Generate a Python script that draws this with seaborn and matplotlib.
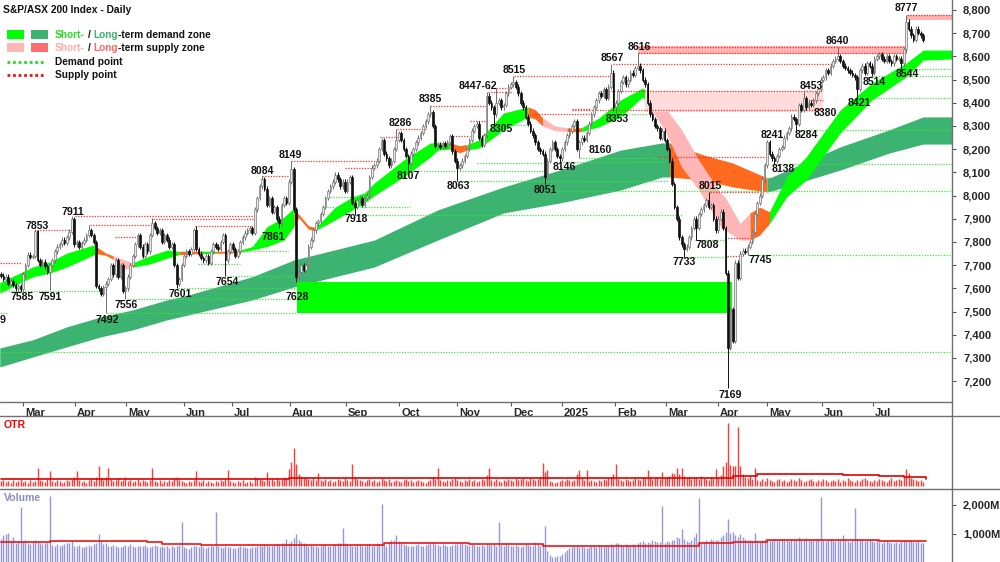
import numpy as np
import matplotlib
matplotlib.use("Agg")
import matplotlib.pyplot as plt
from matplotlib.lines import Line2D
from matplotlib.patches import Rectangle
from matplotlib.transforms import ScaledTranslation
import seaborn as sns

# ---------------- data ----------------
# daily closes, one per trading day (Feb-2024 .. Jul-2025)
CLOSE = [
    7655, 7640, 7650, 7620, 7630, 7615, 7600, 7610, 7598, 7660,
    7700, 7745, 7735, 7740, 7847, 7722, 7700, 7715, 7695, 7670,
    7700, 7720, 7760, 7780, 7790, 7810, 7795, 7820, 7845, 7897,
    7790, 7800, 7780, 7795, 7810, 7830, 7850, 7830, 7800, 7610,
    7600, 7575, 7605, 7620, 7640, 7700, 7660, 7720, 7650, 7700,
    7590, 7600, 7650, 7700, 7740, 7790, 7830, 7780, 7740, 7790,
    7760, 7830, 7880, 7860, 7840, 7850, 7800, 7830, 7810, 7780,
    7790, 7700, 7620, 7640, 7700, 7740, 7760, 7750, 7770, 7850,
    7770, 7750, 7730, 7720, 7740, 7710, 7760, 7790, 7780, 7770,
    7800, 7830, 7720, 7760, 7790, 7770, 7740, 7760, 7800, 7820,
    7840, 7850, 7860, 7840, 7940, 7990, 8040, 8070, 8030, 7960,
    7990, 7930, 7950, 7900, 7880, 7960, 7990, 7970, 8060, 8114,
    7940, 7650, 7670, 7700, 7680, 7700, 7780, 7810, 7850, 7880,
    7890, 7920, 7950, 7990, 8020, 8040, 8060, 8090, 8070, 8040,
    8060, 8020, 8060, 8080, 7970, 7950, 7980, 7990, 7960, 7990,
    8000, 8080, 8120, 8130, 8150, 8200, 8240, 8180, 8160, 8130,
    8150, 8200, 8240, 8270, 8240, 8200, 8170, 8140, 8180, 8200,
    8230, 8250, 8270, 8300, 8320, 8350, 8360, 8300, 8215, 8220,
    8210, 8225, 8215, 8230, 8255, 8190, 8150, 8120, 8130, 8150,
    8170, 8200, 8240, 8280, 8300, 8310, 8250, 8220, 8260, 8430,
    8400, 8380, 8350, 8400, 8410, 8380, 8390, 8440, 8470, 8480,
    8490, 8470, 8440, 8400, 8380, 8340, 8310, 8280, 8260, 8230,
    8200, 8190, 8180, 8080, 8150, 8200, 8230, 8200, 8170, 8160,
    8200, 8230, 8260, 8280, 8300, 8320, 8200, 8230, 8250, 8240,
    8270, 8310, 8350, 8380, 8410, 8440, 8430, 8460, 8420, 8470,
    8530, 8380, 8400, 8450, 8490, 8510, 8480, 8500, 8530, 8520,
    8550, 8560, 8540, 8500, 8480, 8400, 8350, 8330, 8300, 8290,
    8250, 8280, 8240, 8200, 8150, 8050, 7950, 7900, 7820, 7790,
    7770, 7780, 7820, 7860, 7900, 7860, 7920, 7940, 7960, 7980,
    7950, 7960, 7900, 7850, 7900, 7930, 7860, 7667, 7343, 7510,
    7375, 7710, 7646, 7749, 7762, 7758, 7780, 7800, 7843, 7920,
    7968, 8000, 8070, 8130, 8230, 8180, 8160, 8150, 8170, 8200,
    8210, 8250, 8270, 8290, 8340, 8330, 8310, 8390, 8370, 8420,
    8380, 8400, 8390, 8410, 8440, 8460, 8500, 8510, 8540, 8530,
    8560, 8580, 8590, 8600, 8580, 8560, 8550, 8540, 8530, 8520,
    8510, 8460, 8540, 8560, 8530, 8570, 8560, 8530, 8590, 8600,
    8610, 8590, 8580, 8600, 8580, 8570, 8600, 8590, 8590, 8570,
    8630, 8750, 8720, 8690, 8670, 8720, 8700, 8690, 8670,
]
FIRST_OPEN = 7660

# labelled swing highs / lows (index -> price)
HIGH_MARKS = {15: 7853, 29: 7911, 36: 7873, 62: 7904, 80: 7870, 107: 8084, 119: 8149,
              162: 8286, 176: 8385, 199: 8447, 203: 8462, 210: 8515, 250: 8567,
              261: 8616, 290: 8015, 315: 8241, 329: 8453, 343: 8640, 371: 8777}
LOW_MARKS = {8: 7585, 20: 7591, 43: 7492, 51: 7556, 72: 7601, 92: 7654, 114: 7861,
             121: 7628, 145: 7918, 167: 8107, 187: 8063, 202: 8305, 223: 8051,
             229: 8146, 237: 8160, 252: 8353, 280: 7733, 285: 7808, 298: 7169,
             306: 7745, 317: 8138, 326: 8284, 332: 8380, 351: 8421, 357: 8514, 369: 8544}

# volume in millions
VOLUME = [
    820, 950, 1000, 1050, 780, 900, 700, 760, 1930, 720,
    780, 700, 650, 720, 800, 760, 690, 640, 700, 740,
    2310, 620, 600, 640, 580, 610, 650, 700, 690, 760,
    600, 580, 620, 560, 540, 600, 620, 580, 650, 700,
    1000, 760, 640, 700, 600, 580, 620, 600, 560, 540,
    580, 620, 600, 650, 580, 560, 600, 590, 580, 610,
    560, 540, 590, 620, 600, 560, 580, 540, 600, 520,
    580, 560, 600, 620, 1410, 560, 520, 480, 540, 600,
    580, 560, 620, 540, 500, 560, 580, 600, 1750, 600,
    560, 520, 580, 560, 540, 500, 520, 560, 580, 540,
    560, 520, 500, 540, 560, 600, 620, 580, 640, 620,
    600, 580, 620, 660, 640, 700, 680, 830, 700, 760,
    860, 1000, 800, 720, 680, 640, 600, 620, 580, 600,
    560, 600, 640, 620, 600, 580, 620, 650, 700, 680,
    1200, 700, 640, 620, 600, 580, 620, 640, 600, 580,
    620, 640, 600, 620, 700, 640, 2030, 620, 600, 720,
    800, 780, 970, 760, 700, 640, 620, 600, 580, 600,
    620, 640, 600, 580, 620, 640, 680, 720, 660, 620,
    600, 640, 620, 600, 580, 620, 640, 660, 700, 680,
    640, 620, 600, 640, 620, 600, 580, 620, 600, 640,
    660, 620, 640, 600, 1410, 620, 600, 640, 620, 580,
    600, 620, 580, 560, 600, 640, 620, 580, 600, 720,
    640, 600, 700, 1280, 420, 260, 200, 220, 240, 230,
    320, 380, 450, 520, 560, 580, 600, 560, 580, 540,
    520, 560, 600, 580, 560, 620, 600, 580, 620, 600,
    640, 620, 700, 680, 620, 600, 640, 620, 580, 640,
    600, 680, 720, 760, 700, 740, 680, 800, 760, 720,
    740, 1970, 700, 760, 720, 800, 780, 900, 860, 1170,
    820, 760, 740, 800, 900, 1040, 2240, 700, 720, 800,
    760, 820, 780, 800, 780, 900, 960, 1060, 1520, 1020,
    1060, 960, 900, 1000, 880, 820, 780, 800, 760, 1030,
    780, 760, 800, 820, 780, 760, 800, 820, 780, 800,
    840, 780, 800, 760, 820, 800, 840, 880, 820, 800,
    860, 820, 780, 800, 840, 820, 2280, 800, 760, 780,
    820, 800, 760, 820, 800, 970, 780, 760, 740, 800,
    1900, 820, 780, 800, 760, 780, 800, 760, 740, 780,
    720, 700, 740, 760, 720, 700, 680, 720, 700, 760,
    800, 780, 760, 800, 740, 720, 760, 700, 680,
]
VOL_MA_IDX = [0, 20, 60, 66, 82, 150, 157, 192, 222, 286, 300, 314, 360, 379]
VOL_MA_VAL = [720, 760, 720, 655, 620, 630, 690, 650, 586, 690, 724, 790, 760, 760]

OTR = [
    .5, .6, .4, .5, .3, .6, .4, .5, .7, .4,
    .5, .3, .6, .4, .5, 1.8, .6, .5, .4, .7,
    1.5, .5, .4, .6, .5, .3, .4, .6, .5, .7,
    .9, 1.5, .6, .4, .5, .3, .6, .8, .5, .9,
    2.0, .8, .6, .9, 1.8, .7, .5, .6, .8, .5,
    .6, .9, .5, .6, .4, .5, .7, .4, .6, .5,
    .4, .6, 1.8, .5, .4, .6, .3, .5, .4, .6,
    .5, .8, .9, .6, .5, .4, .3, .5, .4, .6,
    1.5, .5, .4, .6, .3, .5, .4, .3, .5, .4,
    .6, .5, .7, 1.6, .5, .4, .3, .5, .4, .6,
    .3, .4, .5, .3, .9, .8, .7, .6, .5, 1.4,
    .6, .7, .5, .8, .6, .7, .9, .8, 1.7, 2.4,
    3.8, 2.2, 1.2, 1.0, .9, .8, .7, .6, .8, .6,
    1.3, .6, .5, .7, .5, .6, .4, .5, .7, .6,
    .5, .8, .6, .5, 2.2, .9, .7, .6, .5, .4,
    .6, .7, .5, .6, .4, .5, .8, .6, .5, .7,
    .4, .5, .6, .5, .4, .6, .7, .5, .6, .4,
    .5, .6, .5, .4, .3, .5, .6, .9, .7, 1.8,
    .6, .5, .4, .6, .5, .7, .8, .6, .5, .4,
    .6, .5, .7, .5, .6, .4, .5, .7, .6, 1.1,
    1.8, .6, .5, .7, .5, .4, .6, .5, .7, .6,
    .5, .8, .6, .7, .9, .6, .5, .8, .7, .6,
    .7, .9, 2.3, 1.4, 1.6, .5, .4, .3, .4, .5,
    .6, .5, .7, .6, .5, .6, 1.2, 1.6, .8, .6,
    1.6, .5, .6, .5, .4, .6, .5, .7, .6, .8,
    .9, 1.2, 2.2, .7, .6, .5, .7, .6, .5, .6,
    .8, .7, .6, .9, .8, 1.6, .9, .7, .8, .9,
    .7, 1.4, .8, .9, 1.0, 1.3, 1.2, 1.8, 1.2, 1.8,
    1.0, .8, .9, .7, .8, .9, .7, 1.0, .8, .7,
    .6, .9, .8, 1.7, .9, 1.1, 2.0, 2.4, 6.3, 2.1,
    2.0, 2.0, 5.9, 2.0, 1.2, .9, .8, 1.0, .7, 1.8,
    .6, .5, .7, .5, .8, .6, .5, .4, .6, .7,
    .5, .6, .4, .5, .7, .6, .5, .8, .6, .4,
    .5, .6, .7, .5, .4, .6, .5, .7, .6, .4,
    .5, .6, .5, .7, .4, .6, .5, .8, .6, .5,
    .4, .6, .5, .7, .8, .6, .5, .4, .6, .5,
    .7, .6, .5, .4, .6, .8, .5, .6, .7, .6,
    .9, 1.7, 1.3, .8, .7, .6, .5, .6, .4,
]
OTR_MA_IDX = [0, 60, 118, 125, 200, 270, 290, 300, 310, 345, 360, 370, 379]
OTR_MA_VAL = [0.75, 0.72, 0.78, 0.85, 0.78, 0.8, 0.85, 1.05, 1.2, 1.15, 1.0, 0.9, 0.75]

# short-term band (top / bottom edges) and its colour spans
ST_IDX = [-0.5, 13, 20, 27, 38, 39, 43, 46, 50, 54, 61, 68, 73, 82, 88, 94, 97, 103, 109, 116,
          120, 122, 126, 129, 137, 144, 149, 153, 165, 176, 179, 184, 188, 191, 196, 206, 216,
          219, 222, 227, 232, 235, 238, 245, 254, 263, 264, 272, 279, 286, 295, 297, 303, 307,
          311, 315, 322, 330, 344, 357, 371, 378, 390]
ST_TOP = [7625, 7692, 7714, 7752, 7787, 7780, 7752, 7740, 7725, 7710, 7740, 7765, 7760, 7760,
          7760, 7760, 7762, 7780, 7865, 7907, 7946, 7920, 7870, 7862, 7950, 7994, 8011, 8054,
          8153, 8227, 8227, 8227, 8215, 8220, 8240, 8356, 8382, 8370, 8335, 8300, 8292, 8290,
          8293, 8334, 8412, 8464, 8455, 8382, 8283, 8153, 8011, 7990, 7880, 7925, 7950, 7930,
          8080, 8166, 8369, 8485, 8571, 8627, 8627]
ST_BOT = [7580, 7650, 7666, 7692, 7744, 7750, 7742, 7725, 7680, 7692, 7705, 7730, 7745, 7750,
          7751, 7752, 7754, 7766, 7780, 7808, 7865, 7905, 7855, 7850, 7895, 7938, 7968, 8000,
          8080, 8166, 8196, 8200, 8185, 8196, 8205, 8283, 8339, 8330, 8300, 8280, 8276, 8275,
          8276, 8296, 8339, 8425, 8410, 8283, 8123, 8024, 7865, 7850, 7808, 7808, 7830, 7880,
          7994, 8067, 8270, 8412, 8511, 8584, 8589]
ST_SPANS = [(-0.5, 39, "g"), (39, 46, "o"), (46, 54, "p"), (54, 73, "g"), (73, 82, "o"),
            (82, 88, "g"), (88, 97, "o"), (97, 120, "g"), (120, 129, "o"), (129, 184, "g"),
            (184, 191, "o"), (191, 216, "g"), (216, 222, "o"), (222, 232, "p"), (232, 238, "o"),
            (238, 264, "g"), (264, 307, "p"), (307, 315, "o"), (315, 390, "g")]

# long-term band
LT_IDX = [-0.5, 13, 27, 41, 54, 68, 77, 103, 120, 153, 179, 206, 229, 254, 271, 274, 288,
          300, 314, 316, 344, 364, 378, 390]
LT_TOP = [7343, 7378, 7434, 7477, 7507, 7550, 7572, 7650, 7722, 7808, 7938, 8037, 8110, 8196,
          8227, 8227, 8175, 8140, 8076, 8080, 8210, 8283, 8339, 8339]
LT_BOT = [7261, 7304, 7348, 7391, 7421, 7464, 7486, 7550, 7606, 7692, 7808, 7925, 7968, 8024,
          8080, 8080, 8067, 8037, 8015, 8020, 8110, 8183, 8222, 8222]
LT_SPANS = [(-0.5, 274, "dg"), (274, 314, "o"), (314, 390, "dg")]

# zones: (start, end, low, high)
DEMAND_BOXES = [(121.3, 299.6, 7494, 7628)]
SUPPLY_BOXES = [(261, 371.3, 8612, 8645, "#FFB3B3"), (263.9, 337, 8360, 8450, "#FFDCDC"),
                (371.3, 390, 8757, 8777, "#FFB3B3")]

# dotted supply / demand points: (start, end, price)
SUPPLY_LINES = [(-0.5, 8.6, 7710), (14.8, 29.5, 7853), (30.3, 103.3, 7911), (62.3, 103.3, 7900),
                (36.5, 61.9, 7873), (46.7, 55.7, 7822), (79.5, 102.9, 7870), (107, 117.6, 8084),
                (118.9, 155.3, 8149), (141, 152, 8120), (155.3, 162.3, 8253), (162.3, 174.6, 8286),
                (175.8, 199.2, 8385), (184, 192.2, 8255), (192.2, 199.2, 8320), (199.6, 209.8, 8462),
                (199.6, 209.8, 8447), (210.2, 250.8, 8515), (218, 241.4, 8350), (234, 241.4, 8375),
                (250.8, 341, 8567), (245.5, 336.9, 8450), (234, 336.9, 8370), (269.3, 313.9, 8166),
                (290.6, 311, 8015), (296.7, 307, 7817), (297.5, 303.7, 7740), (328.7, 337, 8412),
                (371.3, 390, 8777), (261, 371.3, 8616), (261, 371.3, 8642)]
DEMAND_LINES = [(-0.5, 40.6, 7590), (-0.5, 2.5, 7494), (-0.5, 390, 7326), (51.6, 121.3, 7556),
                (43.4, 121.3, 7492), (72.5, 121.3, 7601), (92.6, 120.5, 7654), (80.7, 98, 7705),
                (97.1, 117.6, 7760), (113.5, 120.5, 7861), (134.8, 143.9, 7995), (133.6, 167.6, 7950),
                (145.5, 279.1, 7918), (166.4, 223, 8107), (186.9, 274, 8063), (195, 222, 8140),
                (200.4, 215.6, 8305), (237.3, 272, 8160), (229, 272, 8146), (251.6, 265.2, 8353),
                (279.5, 298, 7733), (284.4, 296.7, 7808), (306, 390, 7745), (223, 390, 8020),
                (317.2, 390, 8138), (326.2, 390, 8284), (351.2, 390, 8421), (369.3, 390, 8544),
                (356.2, 390, 8514)]

# price labels: (text, index, price)
LABELS = [("7585", 8.6, 7563), ("7591", 20.1, 7563), ("7853", 14.8, 7869), ("7911", 29.5, 7929),
          ("7492", 43.4, 7464), ("7556", 51.2, 7529), ("7601", 73.4, 7576), ("7654", 92.6, 7628),
          ("8084", 107, 8106), ("8149", 118.4, 8175), ("7861", 111.5, 7822), ("7628", 121.3, 7563),
          ("7918", 145.5, 7899), ("8286", 163.5, 8313), ("8107", 166.8, 8085), ("8385", 175.8, 8416),
          ("8063", 187.3, 8041), ("8447-62", 195.5, 8472), ("8305", 205, 8287), ("8515", 210.2, 8541),
          ("8051", 223, 8024), ("8146", 231, 8123), ("8160", 245.5, 8197), ("8567", 250.4, 8593),
          ("8353", 252.5, 8330), ("8616", 261.5, 8641), ("8015", 290.6, 8041), ("7733", 280, 7714),
          ("7808", 289.3, 7787), ("7169", 298.8, 7142), ("7745", 311, 7722), ("8241", 316, 8261),
          ("8138", 320.5, 8115), ("8284", 330, 8261), ("8453", 332, 8472), ("8380", 338, 8356),
          ("8640", 343, 8666), ("8421", 351.6, 8399), ("8514", 357.8, 8490), ("8544", 371.3, 8524),
          ("8777", 371.3, 8809), ("9", 0.8, 7464)]

MONTH_POS = [9, 30.3, 51.2, 75, 94.7, 118.4, 141.4, 163.1, 186.9, 209, 229.9, 251.6, 272.5,
             293.9, 313.9, 336.5, 357.4]
MONTH_LABELS = ["Mar", "Apr", "May", "Jun", "Jul", "Aug", "Sep", "Oct", "Nov", "Dec", "2025",
                "Feb", "Mar", "Apr", "May", "Jun", "Jul"]
PRICE_TICKS = [7200, 7300, 7400, 7500, 7600, 7700, 7800, 7900, 8000, 8100, 8200, 8300, 8400,
               8500, 8600, 8700, 8800]

assert len(CLOSE) == len(VOLUME) == len(OTR) == 379

# ---------------- styling ----------------
sns.set_theme(style="white")
plt.rcParams["font.family"] = ["Liberation Sans", "DejaVu Sans"]

BAND_COLORS = {"g": "#00FF00", "dg": "#3CB371", "p": "#FFB6B6", "o": "#FF6A1F"}
W, H = 1000, 562
XLIM = (-0.41, 389.8)
LABEL_FS = 7.6

fig = plt.figure(figsize=(10, 5.62), dpi=100)
ax = fig.add_axes([0, 1 - 402 / H, 952 / W, 402 / H])
ax_otr = fig.add_axes([0, 1 - 489 / H, 952 / W, 73 / H])
ax_vol = fig.add_axes([0, 0, 952 / W, 73 / H])

for a in (ax, ax_otr, ax_vol):
    a.set_xlim(*XLIM)
    for s in a.spines.values():
        s.set_visible(False)
    a.set_facecolor("white")

# ---- bands ----
def draw_band(a, idx, top, bot, spans):
    idx, top, bot = np.array(idx, float), np.array(top, float), np.array(bot, float)
    for s, e, key in spans:
        m = (idx >= s) & (idx <= e)
        a.fill_between(idx[m], bot[m], top[m], color=BAND_COLORS[key], lw=0, zorder=1)

draw_band(ax, LT_IDX, LT_TOP, LT_BOT, LT_SPANS)
draw_band(ax, ST_IDX, ST_TOP, ST_BOT, ST_SPANS)

for s, e, lo, hi in DEMAND_BOXES:
    ax.add_patch(Rectangle((s, lo), e - s, hi - lo, color="#00FF00", lw=0, zorder=1))
for s, e, lo, hi, c in SUPPLY_BOXES:
    ax.add_patch(Rectangle((s, lo), e - s, hi - lo, color=c, lw=0, zorder=1))

for s, e, p in DEMAND_LINES:
    ax.hlines(p, s, e, colors="#3BE83B", lw=0.9, linestyles=(0, (1, 1.2)), zorder=2)
for s, e, p in SUPPLY_LINES:
    ax.hlines(p, s, e, colors="#FF2A2A", lw=0.9, linestyles=(0, (1, 1.2)), zorder=2)

# ---- candles ----
close = np.array(CLOSE, float)
n = len(close)
x = np.arange(n)
opn = np.r_[FIRST_OPEN, close[:-1]]
hi = np.maximum(opn, close) + 10
lo = np.minimum(opn, close) - 10
for k, v in HIGH_MARKS.items():
    hi[k] = v
for k, v in LOW_MARKS.items():
    lo[k] = v
up = close >= opn
body = np.maximum(np.abs(close - opn), 5)
base = np.minimum(opn, close)

ax.vlines(x[up], lo[up], hi[up], colors="#6E6E6E", lw=0.7, zorder=3)
ax.vlines(x[~up], lo[~up], hi[~up], colors="#111111", lw=0.7, zorder=3)
ax.bar(x[up], body[up], bottom=base[up], width=0.7, color="#E6E6E6",
       edgecolor="#7A7A7A", linewidth=0.5, zorder=4)
ax.bar(x[~up], body[~up], bottom=base[~up], width=0.7, color="#111111",
       edgecolor="#111111", linewidth=0.5, zorder=4)

for txt, i, p in LABELS:
    ax.text(i, p, txt, ha="center", va="center", fontsize=LABEL_FS, fontweight="bold",
            color="#111111", zorder=6)

ax.set_ylim(7110, 8843)
ax.yaxis.tick_right()
ax.set_yticks(PRICE_TICKS)
ax.set_yticklabels([f"{v:,}" for v in PRICE_TICKS])
ax.tick_params(axis="y", which="both", right=True, left=False, direction="out", length=3,
               width=0.8, color="#555555", pad=5, labelsize=8)
ax.set_xticks(MONTH_POS)
ax.set_xticklabels(MONTH_LABELS)
ax.tick_params(axis="x", bottom=True, direction="out", length=3, width=0.8,
               color="#555555", pad=1.5, labelsize=8)
for lbl in ax.get_xticklabels():
    lbl.set_horizontalalignment("left")
    lbl.set_transform(lbl.get_transform() + ScaledTranslation(1.5 / 72, 0, fig.dpi_scale_trans))
for lbl in ax.get_xticklabels() + ax.get_yticklabels():
    lbl.set_fontweight("bold")

# ---- OTR panel ----
ax_otr.vlines(x, 0, OTR, colors="#FF3C3C", lw=1.0)
sns.lineplot(x=OTR_MA_IDX, y=OTR_MA_VAL, ax=ax_otr, color="#E00000", lw=1.2,
             drawstyle="steps-post")
ax_otr.set_ylim(-0.3, 7.0)
ax_otr.set_xticks([])
ax_otr.set_yticks([])
ax_otr.set_xlabel("")
ax_otr.set_ylabel("")
ax_otr.text(0.004, 0.88, "OTR", transform=ax_otr.transAxes, color="#FF0000",
            fontsize=7.6, fontweight="bold", va="center")

# ---- volume panel ----
ax_vol.vlines(x, 0, VOLUME, colors="#9797D6", lw=1.0)
sns.lineplot(x=VOL_MA_IDX, y=VOL_MA_VAL, ax=ax_vol, color="#EE1515", lw=1.2,
             drawstyle="steps-post")
ax_vol.set_ylim(34, 2551)
ax_vol.set_xticks([])
ax_vol.yaxis.tick_right()
ax_vol.set_yticks([1000, 2000])
ax_vol.set_yticklabels(["1,000M", "2,000M"])
ax_vol.tick_params(axis="y", right=True, left=False, direction="out", length=3, width=0.8,
                   color="#555555", pad=5, labelsize=8)
for lbl in ax_vol.get_yticklabels():
    lbl.set_fontweight("bold")
ax_vol.set_xlabel("")
ax_vol.set_ylabel("")
ax_vol.text(0.004, 0.88, "Volume", transform=ax_vol.transAxes, color="#8A8AC8",
            fontsize=7.6, fontweight="bold", va="center")

# ---- frame lines ----
def fig_line(x0, y0, x1, y1):
    fig.add_artist(Line2D([x0 / W, x1 / W], [1 - y0 / H, 1 - y1 / H],
                          transform=fig.transFigure, color="#707070", lw=1.0))

fig_line(0, 402, 952, 402)
fig_line(0, 416, W, 416)
fig_line(0, 489, W, 489)
fig_line(952, 0, 952, H)

# ---- title and legend ----
fig.text(3 / W, 1 - 10 / H, "S&P/ASX 200 Index - Daily", fontsize=7.4, fontweight="bold",
         va="center", ha="left", color="#111111")

renderer = fig.canvas.get_renderer()

def rich_text(x_px, y_px, pieces, fs=7.3):
    xp = x_px
    for txt, col, gap in pieces:
        xp += gap
        t = fig.text(xp / W, 1 - y_px / H, txt, color=col, fontsize=fs, fontweight="bold",
                     va="center", ha="left")
        xp += t.get_window_extent(renderer=renderer).width

def square(x_px, y_px, w, h, col):
    fig.add_artist(Rectangle((x_px / W, 1 - (y_px + h) / H), w / W, h / H,
                             transform=fig.transFigure, color=col, lw=0))

square(7, 30, 17, 9, "#00FF00")
square(31, 30, 17, 9, "#3CB371")
square(7, 43, 17, 9, "#FFB6B6")
square(31, 43, 17, 9, "#FF6E6E")
rich_text(55, 35, [("Short-", "#22DD22", 0), ("/", "#111111", 3), ("Long", "#3CB371", 3),
                   ("-term demand zone", "#111111", 0)])
rich_text(55, 48, [("Short-", "#FFAAAA", 0), ("/", "#111111", 3), ("Long", "#FF6464", 3),
                   ("-term supply zone", "#111111", 0)])
fig.add_artist(Line2D([7 / W, 45 / W], [1 - 62 / H] * 2, transform=fig.transFigure,
                      color="#22DD22", lw=2, linestyle=(0, (1, 1))))
fig.add_artist(Line2D([7 / W, 45 / W], [1 - 75 / H] * 2, transform=fig.transFigure,
                      color="#EE1111", lw=2, linestyle=(0, (1, 1))))
rich_text(55, 62, [("Demand point", "#111111", 0)])
rich_text(55, 75, [("Supply point", "#111111", 0)])

fig.savefig("out.png", dpi=100, facecolor="white")
